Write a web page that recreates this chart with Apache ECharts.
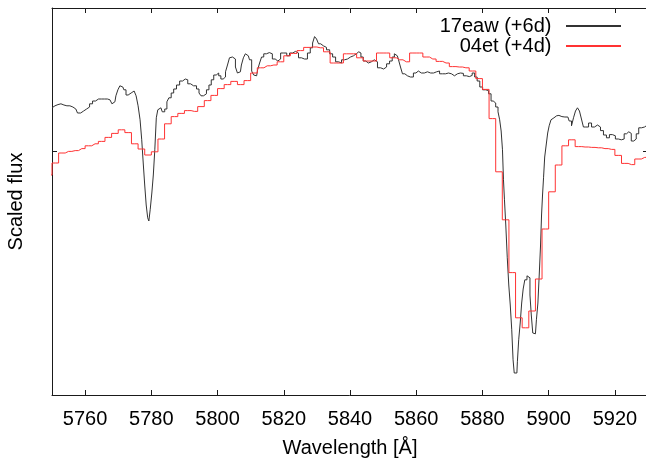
<!DOCTYPE html>
<html>
<head>
<meta charset="utf-8">
<script src="https://cdn.jsdelivr.net/npm/echarts@6/dist/echarts.min.js"></script>
<style>
  html, body { margin: 0; padding: 0; background: #fff; }
  #chart { width: 646px; height: 462px; }
</style>
</head>
<body>
<div id="chart"></div>
<script>
// Wavelength tick positions (Å) and the single flux tick
const xTickValues = [5760, 5780, 5800, 5820, 5840, 5860, 5880, 5900, 5920];
const yTickValues = [1];

const seriesNames = ['17eaw (+6d)', '04et (+4d)'];

// SN 2017eaw, +6 d: [wavelength (Å), scaled flux]
const spec17eaw = [
  [5750.0,1.108],[5750.9,1.113],[5751.8,1.116],[5752.7,1.118],[5753.6,1.115],[5754.5,1.113],[5755.4,1.113],
  [5756.3,1.110],[5757.2,1.105],[5758.2,1.095],[5759.1,1.100],[5760.0,1.105],[5760.9,1.110],[5761.8,1.118],
  [5762.7,1.125],[5763.6,1.130],[5764.5,1.130],[5765.4,1.130],[5766.3,1.130],[5767.2,1.128],[5767.8,1.123],
  [5768.4,1.118],[5769.0,1.123],[5769.6,1.138],[5770.2,1.153],[5770.8,1.163],[5771.4,1.160],[5772.0,1.153],
  [5772.7,1.140],[5773.3,1.143],[5773.9,1.145],[5774.5,1.150],[5775.1,1.148],[5775.7,1.138],[5776.3,1.113],
  [5776.9,1.078],[5777.3,1.028],[5777.8,0.970],[5778.2,0.915],[5778.7,0.865],[5779.1,0.833],[5779.4,0.825],
  [5779.9,0.853],[5780.4,0.895],[5780.8,0.940],[5781.3,1.003],[5781.7,1.083],[5782.2,1.103],[5782.9,1.108],
  [5783.7,1.098],[5784.4,1.105],[5785.0,1.123],[5785.6,1.133],[5786.4,1.145],[5787.1,1.155],[5788.1,1.165],
  [5789.0,1.175],[5789.9,1.180],[5790.6,1.178],[5791.4,1.168],[5792.3,1.163],[5793.2,1.163],[5794.1,1.155],
  [5794.7,1.145],[5795.3,1.138],[5796.2,1.143],[5797.1,1.153],[5797.7,1.165],[5798.5,1.178],[5799.2,1.190],
  [5800.0,1.195],[5800.7,1.188],[5801.3,1.180],[5802.1,1.185],[5802.7,1.198],[5803.3,1.215],[5803.9,1.233],
  [5804.5,1.235],[5805.1,1.230],[5805.7,1.210],[5806.3,1.195],[5806.9,1.198],[5807.5,1.215],[5808.1,1.233],
  [5808.7,1.243],[5809.3,1.238],[5810.0,1.228],[5810.6,1.200],[5811.2,1.190],[5811.8,1.188],[5812.4,1.203],
  [5813.0,1.220],[5813.6,1.235],[5814.3,1.243],[5815.2,1.246],[5816.1,1.243],[5817.0,1.230],[5817.8,1.225],
  [5818.6,1.230],[5819.5,1.245],[5820.5,1.245],[5821.3,1.238],[5822.2,1.245],[5823.1,1.249],[5824.0,1.245],
  [5824.9,1.233],[5825.8,1.230],[5826.7,1.230],[5827.6,1.245],[5828.4,1.258],[5829.0,1.270],[5829.6,1.286],
  [5830.2,1.280],[5830.8,1.268],[5831.5,1.263],[5832.4,1.259],[5833.4,1.253],[5834.3,1.243],[5835.2,1.235],
  [5836.1,1.223],[5837.0,1.220],[5837.9,1.228],[5838.8,1.230],[5839.7,1.235],[5840.6,1.238],[5841.5,1.243],
  [5842.3,1.248],[5843.0,1.245],[5843.6,1.235],[5844.4,1.225],[5845.1,1.220],[5846.0,1.223],[5846.9,1.228],
  [5847.8,1.223],[5848.8,1.208],[5849.7,1.205],[5850.6,1.210],[5851.5,1.218],[5852.4,1.225],[5853.1,1.235],
  [5853.7,1.243],[5854.3,1.238],[5855.0,1.228],[5855.5,1.210],[5856.2,1.193],[5856.9,1.188],[5857.8,1.185],
  [5858.7,1.185],[5859.6,1.195],[5860.2,1.200],[5861.1,1.195],[5862.0,1.195],[5862.9,1.198],[5863.9,1.195],
  [5864.8,1.195],[5865.7,1.198],[5866.6,1.200],[5867.5,1.193],[5868.4,1.193],[5869.3,1.195],[5870.2,1.193],
  [5871.1,1.188],[5872.0,1.193],[5872.9,1.195],[5873.8,1.194],[5874.7,1.188],[5875.6,1.186],[5876.5,1.189],
  [5877.3,1.195],[5878.0,1.185],[5878.8,1.175],[5879.6,1.160],[5880.5,1.153],[5881.4,1.151],[5882.3,1.143],
  [5882.9,1.125],[5883.6,1.120],[5884.4,1.110],[5885.0,1.098],[5885.4,1.078],[5885.9,1.050],[5886.2,1.003],
  [5886.5,0.928],[5886.8,0.878],[5887.3,0.815],[5887.7,0.733],[5888.2,0.665],[5888.6,0.615],[5889.1,0.553],
  [5889.4,0.478],[5889.8,0.445],[5890.4,0.445],[5890.7,0.473],[5891.2,0.528],[5891.6,0.570],[5892.1,0.620],
  [5892.5,0.655],[5893.1,0.678],[5893.8,0.688],[5894.2,0.683],[5894.5,0.640],[5895.0,0.590],[5895.4,0.545],
  [5896.0,0.543],[5896.6,0.578],[5896.9,0.620],[5897.4,0.690],[5897.7,0.765],[5898.0,0.840],[5898.3,0.890],
  [5898.6,0.933],[5899.0,0.985],[5899.5,1.015],[5899.9,1.045],[5900.4,1.063],[5901.0,1.078],[5901.6,1.083],
  [5902.4,1.088],[5903.1,1.089],[5904.0,1.086],[5904.9,1.085],[5905.8,1.085],[5906.6,1.075],[5907.2,1.063],
  [5907.8,1.083],[5908.4,1.100],[5909.0,1.108],[5909.6,1.100],[5910.2,1.080],[5910.8,1.060],[5911.6,1.060],
  [5912.5,1.070],[5913.4,1.060],[5914.3,1.065],[5915.2,1.060],[5916.1,1.051],[5917.0,1.040],[5917.9,1.033],
  [5918.8,1.041],[5919.7,1.038],[5920.6,1.030],[5921.5,1.028],[5922.4,1.030],[5923.2,1.043],[5923.8,1.048],
  [5924.6,1.044],[5925.3,1.025],[5926.1,1.030],[5926.8,1.043],[5927.6,1.058],[5928.5,1.060],[5929.4,1.065],
  [5930.3,1.068]
];

// SN 2004et, +4 d: 2 Å bins, [bin centre (Å), scaled flux]
const spec04et = [
  [5749,0.940],[5751,0.970],[5753,0.995],[5755,0.999],[5757,1.001],[5759,1.006],[5761,1.013],[5763,1.018],
  [5765,1.024],[5767,1.034],[5769,1.044],[5771,1.053],[5773,1.046],[5775,1.018],[5777,1.005],[5779,0.990],
  [5781,0.998],[5783,1.030],[5785,1.068],[5787,1.086],[5789,1.094],[5791,1.101],[5793,1.099],[5795,1.111],
  [5797,1.126],[5799,1.139],[5801,1.156],[5803,1.166],[5805,1.174],[5807,1.166],[5809,1.176],[5811,1.195],
  [5813,1.208],[5815,1.213],[5817,1.215],[5819,1.223],[5821,1.238],[5823,1.244],[5825,1.251],[5827,1.259],
  [5829,1.260],[5831,1.258],[5833,1.248],[5835,1.220],[5837,1.220],[5839,1.243],[5841,1.243],[5843,1.233],
  [5845,1.225],[5847,1.225],[5849,1.245],[5851,1.245],[5853,1.233],[5855,1.228],[5857,1.223],[5859,1.245],
  [5861,1.245],[5863,1.235],[5865,1.230],[5867,1.224],[5869,1.220],[5871,1.211],[5873,1.210],[5875,1.208],
  [5877,1.200],[5879,1.181],[5881,1.154],[5883,1.081],[5885,0.948],[5887,0.828],[5889,0.696],[5891,0.583],
  [5893,0.558],[5895,0.600],[5897,0.680],[5899,0.805],[5901,0.898],[5903,0.965],[5905,1.013],[5907,1.028],
  [5909,1.011],[5911,1.010],[5913,1.009],[5915,1.008],[5917,1.006],[5919,1.004],[5921,0.989],[5923,0.969],
  [5925,0.966],[5927,0.980],[5929,0.984],[5931,0.984]
];

const FONT = "'Liberation Sans', Arial, Helvetica, sans-serif";
const X_MIN = 5750, X_MAX = 5930;
const Y_MIN = 0.39, Y_MAX = 1.3575;

const frameLine = { show: true, lineStyle: { color: '#1a1a1a', width: 1 } };
const tickStyle = { color: '#1a1a1a', width: 1 };

function xAxisDef(pos, withLabels) {
  return {
    type: 'value', position: pos, min: X_MIN, max: X_MAX,
    axisLine: frameLine,
    axisTick: { show: true, inside: true, length: 5, customValues: xTickValues, lineStyle: tickStyle },
    axisLabel: withLabels
      ? { show: true, customValues: xTickValues, fontSize: 20, color: '#000', fontFamily: FONT,
          margin: 14, formatter: v => String(v) }
      : { show: false },
    splitLine: { show: false }
  };
}

function yAxisDef(pos) {
  return {
    type: 'value', position: pos, min: Y_MIN, max: Y_MAX,
    axisLine: frameLine,
    axisTick: { show: true, inside: true, length: 5, customValues: yTickValues, lineStyle: tickStyle },
    axisLabel: { show: false },
    splitLine: { show: false }
  };
}

const xBottom = Object.assign(xAxisDef('bottom', true), {
  name: 'Wavelength [Å]', nameLocation: 'middle', nameGap: 43,
  nameTextStyle: { fontSize: 20, color: '#000', fontFamily: FONT }
});
const xTop = xAxisDef('top', false);
const yLeft = Object.assign(yAxisDef('left'), {
  name: 'Scaled flux', nameLocation: 'middle', nameGap: 26,
  nameTextStyle: { fontSize: 20, color: '#000', fontFamily: FONT }
});
const yRight = yAxisDef('right');

const chart = echarts.init(document.getElementById('chart'), null, { renderer: 'canvas' });

chart.setOption({
  animation: false,
  backgroundColor: '#fff',
  grid: { left: 52, top: 8, width: 596, height: 387, containLabel: false, outerBoundsMode: 'none' },
  legend: {
    orient: 'vertical', right: 19, top: 11, align: 'right',
    itemWidth: 55, itemHeight: 20, itemGap: 0,
    formatter: name => name + ' \u2009',
    itemStyle: { opacity: 0 },
    textStyle: { fontSize: 20, color: '#000', fontFamily: FONT },
    data: seriesNames
  },
  xAxis: [xBottom, xTop],
  yAxis: [yLeft, yRight],
  series: [
    {
      name: seriesNames[0], type: 'line', step: 'middle', data: spec17eaw,
      xAxisIndex: 0, yAxisIndex: 0, symbol: 'none', clip: true,
      lineStyle: { color: '#333', width: 1 }, itemStyle: { color: '#333' }
    },
    {
      name: seriesNames[1], type: 'line', step: 'middle', data: spec04et,
      xAxisIndex: 0, yAxisIndex: 0, symbol: 'none', clip: true,
      lineStyle: { color: '#ff3333', width: 1 }, itemStyle: { color: '#ff3333' }
    }
  ]
});
</script>
</body>
</html>
